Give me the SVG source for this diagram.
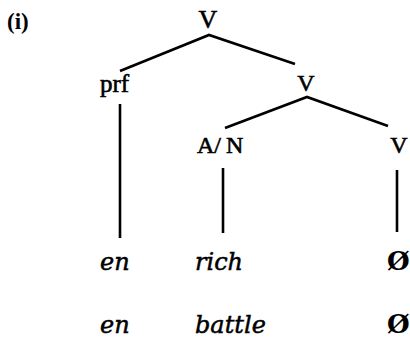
<svg xmlns="http://www.w3.org/2000/svg" width="410" height="344" viewBox="0 0 410 344">
<style>
.lbl{font-family:"Liberation Serif","Times New Roman",serif;font-size:24px;fill:#000;stroke:#000;stroke-width:0.6}
.it{font-family:"DejaVu Serif",serif;font-style:italic;font-size:24px;fill:#000;stroke:#000;stroke-width:0.5}
.nul{font-family:"DejaVu Serif",serif;font-weight:bold;font-size:26px;fill:#000}
.edge{stroke:#000;stroke-width:2.6;fill:none;stroke-linecap:butt}
</style>
<rect width="410" height="344" fill="#fff"/>
<text x="7" y="29" style="font-family:'Liberation Serif',serif;font-weight:bold;font-size:23px">(i)</text>
<g id="connectors">
<polyline class="edge" points="120,71 209,35 295,64"/>
<polyline class="edge" points="225,128 307,97 388,126"/>
<line class="edge" x1="120" y1="104" x2="120" y2="238"/>
<line class="edge" x1="223" y1="168" x2="223" y2="233"/>
<line class="edge" x1="397" y1="170" x2="397" y2="232"/>
</g>
<g id="n-V-top"><text class="lbl" x="208" y="28" text-anchor="middle" style="font-size:26px">V</text></g>
<g id="n-prf"><text class="lbl" x="100" y="92" style="font-size:25px">prf</text></g>
<g id="n-V-mid"><text class="lbl" x="306" y="91" text-anchor="middle">V</text></g>
<g id="n-AN"><text class="lbl" x="197" y="153">A/<tspan dx="5">N</tspan></text></g>
<g id="n-V-right"><text class="lbl" x="399" y="153" text-anchor="middle">V</text></g>
<g id="n-en1"><text class="it" x="100" y="270">en</text></g>
<g id="n-rich"><text class="it" x="195" y="270">rich</text></g>
<g id="n-null1"><text class="nul" x="387" y="270">Ø</text></g>
<g id="n-en2"><text class="it" x="100" y="333">en</text></g>
<g id="n-battle"><text class="it" x="195" y="333">battle</text></g>
<g id="n-null2"><text class="nul" x="387" y="333">Ø</text></g>
</svg>
